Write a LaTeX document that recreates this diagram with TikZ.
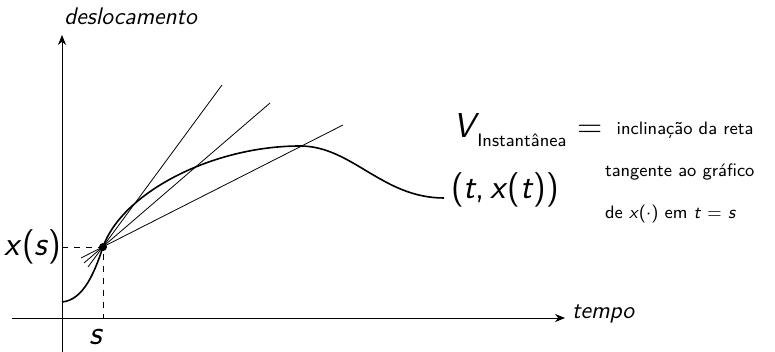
\documentclass[tikz,border=0pt]{standalone}
\usepackage{tikz}
\usetikzlibrary{arrows.meta,positioning}
\renewcommand{\familydefault}{\sfdefault}

\begin{document}
\begin{tikzpicture}[>={Stealth[length=5pt,width=4pt]}, x=0.5pt, y=0.5pt,
  axis/.style={->, thin},
  guide/.style={dashed, thin},
  secant/.style={thin},
  big/.style={font=\LARGE},
  label/.style={font=\large\itshape},
  note/.style={font=\small, anchor=west}]
\useasboundingbox (-62,-34) rectangle (713,318);
% axes
\coordinate (xbeg) at (-50,0);
\coordinate (xend) at (503,0);
\coordinate (ybeg) at (0,-34);
\coordinate (yend) at (0,283);
\draw[axis] (xbeg) -- (xend);
\draw[axis] (ybeg) -- (yend);
\node[label, anchor=south west, inner sep=1pt, yshift=4pt] (desl) at (yend) {deslocamento};
\node[label, right, yshift=2pt] (tempo) at (xend) {tempo};
% the point (s, x(s))
\coordinate (P) at (41,71);
\coordinate (Px) at (0,71);
\coordinate (Ps) at (41,0);
\draw[guide] (Px) -- (P) -- (Ps);
\node[big, left, inner sep=2pt, xshift=2pt] (xs) at (Px) {\textit{x}(\textit{s})};
\node[big, below, xshift=-3pt, yshift=-2pt] (s) at (Ps) {\textit{s}};
% the curve
\coordinate (c0) at (0,16);
\coordinate (c1) at (382,120);
\draw[thick] (c0) .. controls (22,18) and (33,47) .. (P)
  .. controls (60,125) and (150,172) .. (238,172)
  .. controls (290,172) and (320,120) .. (c1);
% secant lines through P
\coordinate (s1a) at (26,51);
\coordinate (s1b) at (160,233);
\coordinate (s2a) at (22,55);
\coordinate (s2b) at (208,215);
\coordinate (s3a) at (19,60);
\coordinate (s3b) at (281,193);
\draw[secant] (s1a) -- (s1b);
\draw[secant] (s2a) -- (s2b);
\draw[secant] (s3a) -- (s3b);
\fill (P) circle (2pt);
\node[big, right, yshift=4pt] (tx) at (c1) {(\textit{t},\thinspace\textit{x}(\textit{t}))};
% definition
\node[big, anchor=west] (vel) at (384,188) {\textit{V}\kern-1pt\raisebox{-.6ex}{\small Instantânea} =};
\node[note, right=0pt of vel] (def1) {inclinação da reta};
\node[note] (def2) at (536,146) {tangente ao gráfico};
\node[note] (def3) at (536,104) {de \textit{x}($\cdot$) em \textit{t} = \textit{s}};
\end{tikzpicture}
\end{document}
